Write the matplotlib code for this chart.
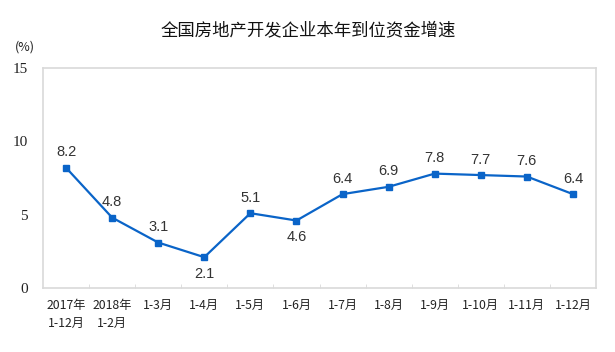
import matplotlib
matplotlib.use("Agg")
import matplotlib.pyplot as plt
from matplotlib.ticker import FixedLocator, NullFormatter

# 数据 ---------------------------------------------------------------
categories = ["2017年\n1-12月", "2018年\n1-2月", "1-3月", "1-4月", "1-5月", "1-6月",
              "1-7月", "1-8月", "1-9月", "1-10月", "1-11月", "1-12月"]
growth = [8.2, 4.8, 3.1, 2.1, 5.1, 4.6, 6.4, 6.9, 7.8, 7.7, 7.6, 6.4]
label_below = [False, False, False, True, False, True,
               False, False, False, False, False, False]
y_ticks = [0, 5, 10, 15]

title = "全国房地产开发企业本年到位资金增速"
unit = "(%)"

CJK = ["Noto Sans CJK SC", "DejaVu Sans"]
BLUE = "#0a64c8"
FRAME = "#d9d9d9"

fig = plt.figure(figsize=(6.15, 3.52), dpi=100)
ax = fig.add_axes([43 / 615, 1 - 288 / 352, (596 - 43) / 615, (288 - 68) / 352])

x = list(range(len(growth)))
ax.plot(x, growth, color=BLUE, linewidth=1.6, marker="s", markersize=5,
        markerfacecolor=BLUE, markeredgecolor=BLUE)

for xi, v, below in zip(x, growth, label_below):
    if below:
        ax.annotate(f"{v:.1f}", (xi, v), xytext=(0, -7), textcoords="offset points",
                    ha="center", va="top", fontsize=10.5, color="#333333",
                    family="Liberation Sans")
    else:
        ax.annotate(f"{v:.1f}", (xi, v), xytext=(0, 6), textcoords="offset points",
                    ha="center", va="bottom", fontsize=10.5, color="#333333",
                    family="Liberation Sans")

ax.set_xlim(-0.5, len(growth) - 0.5)
ax.set_ylim(0, 15)

# x 轴：标签在类别中心，刻度线在类别边界
ax.set_xticks(x)
ax.set_xticklabels(categories, family=CJK, fontsize=8.8, color="#222222",
                   linespacing=1.45)
ax.tick_params(axis="x", which="major", length=0, pad=8)
ax.xaxis.set_minor_locator(FixedLocator([i + 0.5 for i in x[:-1]]))
ax.xaxis.set_minor_formatter(NullFormatter())
ax.tick_params(axis="x", which="minor", direction="in", length=3, color=FRAME)
for lab in ax.get_xticklabels():
    lab.set_verticalalignment("top")

ax.set_yticks(y_ticks)
ax.set_yticklabels([str(t) for t in y_ticks], family="Liberation Serif",
                   fontsize=11, color="#222222")
ax.tick_params(axis="y", length=0, pad=11)

for s in ax.spines.values():
    s.set_color(FRAME)
    s.set_linewidth(1.2)

fig.text(0.502, 1 - 30 / 352, title, ha="center", va="center",
         fontsize=12.5, family=CJK, color="#111111")
fig.text(25 / 615, 1 - 47 / 352, unit, ha="center", va="center",
         fontsize=9, family=CJK, color="#222222")

fig.savefig("out.png", dpi=100)
